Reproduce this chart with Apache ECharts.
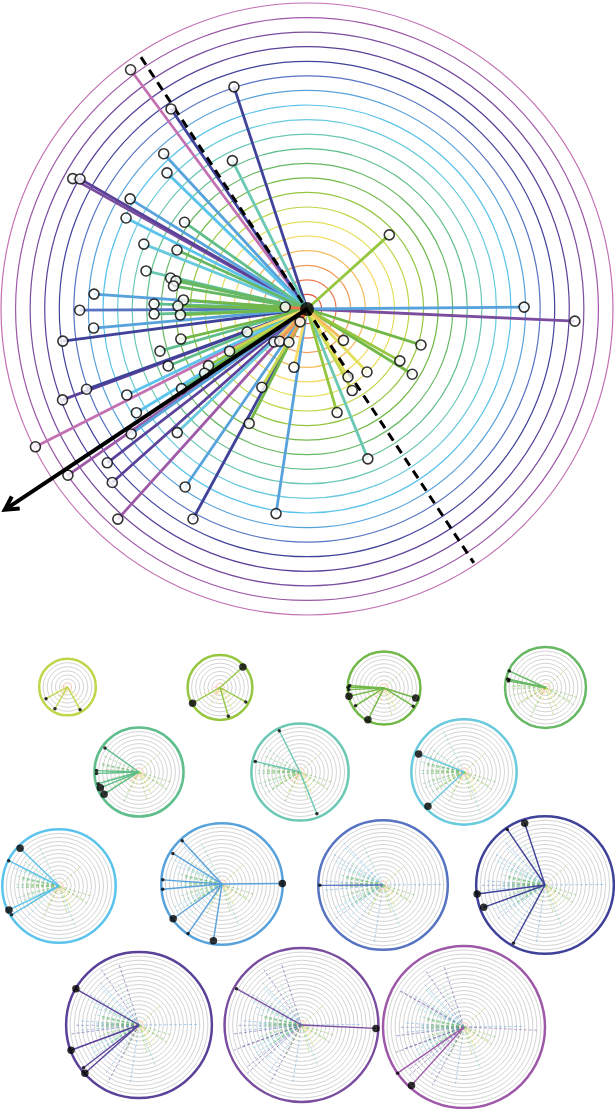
<!DOCTYPE html>
<html>
<head>
<meta charset="utf-8">
<script src="https://cdn.jsdelivr.net/npm/echarts@6/dist/echarts.min.js"></script>
<style>
  html, body { margin: 0; padding: 0; background: #fff; }
  #chart { width: 615px; height: 1109px; }
</style>
</head>
<body>
<div id="chart"></div>
<script>
// ring colours, ring 1 (centre) .. ring 21 (outside)
const ringColors = [
  '#e0533c', '#ea7a4e', '#f09a58', '#f5bd62', '#f5dc6a', '#e4e05a', '#bfd64a',
  '#95c640', '#72b848', '#67b864', '#5fbe8c', '#6ac8b4', '#68cadc', '#5bc3ec',
  '#58a2dc', '#5774c2', '#40429a', '#5a4199', '#7a4d9f', '#9e58a8', '#c270b2'
];
const ringCount = 21;

// points: distance in ring units, angle in degrees (counter-clockwise from east)
const radii = [
  20.4, 16.05, 16.6, 14.5, 11.4, 13.4, 18.4, 17.95, 14.3, 13.9,
  10.3, 12.05, 9.8, 11.35, 9.6, 9.2, 9.3, 14.65, 10.5, 8.5,
  8.86, 15.6, 1.5, 10.5, 8.7, 14.7, 16.9, 1.0, 4.4, 8.9,
  10.5, 6.05, 3.2, 2.9, 2.6, 10.3, 7.8, 8.3, 16.1, 17.9,
  10.2, 13.7, 4.1, 6.2, 13.7, 20.9, 14.8, 12.3, 8.8, 17.3,
  19.98, 17.9, 14.8, 19.4, 16.4, 14.2, 7.6, 14.9, 18.4, 3.3,
  8.2, 7.3, 5.97, 8.5, 5.45, 6.4, 7.4, 11.1
];
const angles = [
  126.4, 108.2, 124.2, 132.7, 116.7, 135.8, 150.9, 150.2, 148.1, 153.3,
  144.7, 158.3, 155.6, 166.7, 167.2, 167.9, 170.2, 176.0, 178.1, 175.8,
  178.7, 180.3, 174.8, 181.9, 182.7, 185.1, 187.5, 241.7, 201.0, 193.4,
  196.0, 208.6, 225.0, 229.8, 241.4, 202.3, 209.9, 212.1, 200.0, 200.4,
  212.4, 205.5, 257.4, 240.0, 211.3, 206.9, 215.4, 223.6, 243.2, 217.6,
  214.8, 221.7, 235.6, 228.0, 241.5, 261.4, 42.0, 0.5, 357.4, 319.3,
  342.5, 330.8, 313.6, 328.2, 301.1, 299.0, 286.2, 292.1
];
// 1 = large dot in the small panels
const bigDot = [
  0, 1, 0, 0, 0, 1, 0, 1, 0, 0,
  0, 1, 0, 0, 0, 0, 0, 0, 0, 0,
  0, 0, 0, 0, 0, 0, 1, 0, 0, 1,
  0, 0, 0, 0, 0, 1, 1, 0, 1, 1,
  1, 1, 0, 0, 0, 0, 1, 1, 1, 0,
  0, 1, 0, 1, 0, 1, 1, 1, 1, 0,
  1, 0, 0, 0, 0, 0, 0, 0
];

// dashed diameter and arrow
const dashR = [20.7, 20.85];
const dashAngle = [123.4, 303.3];
const arrowR = [24.9];
const arrowAngle = [213.6];

// small panels: outer ring shown in each
const panelRings = [7, 8, 9, 10, 11, 12, 13, 14, 15, 16, 17, 18, 19, 20];
const panelCenters = [
  [67.5, 687], [220, 687.5], [384, 688], [545.5, 687.5],
  [139, 772], [300, 772], [464, 772],
  [59, 886], [222, 884], [383, 885], [545, 885],
  [139, 1025], [301.5, 1025], [464, 1027]
];
const panelScale = 4.05;

const points = radii.map((r, i) => [r, angles[i], bigDot[i]]);
const colorOf = (r) => ringColors[Math.min(ringCount, Math.max(1, Math.ceil(r))) - 1];

function rayItem(width, dash) {
  return function (params, api) {
    const r = api.value(0);
    const a = api.value(1);
    const p0 = api.coord([0, a]);
    const p1 = api.coord([r, a]);
    return {
      type: 'line',
      shape: {x1: p0[0], y1: p0[1], x2: p1[0], y2: p1[1]},
      style: {stroke: colorOf(r), lineWidth: width, lineDash: dash || null, opacity: dash ? 0.7 : 1},
    };
  };
}

function arrowItem(params, api) {
  const p0 = api.coord([0, api.value(1)]);
  const p1 = api.coord([api.value(0), api.value(1)]);
  const dx = p1[0] - p0[0];
  const dy = p1[1] - p0[1];
  const len = Math.sqrt(dx * dx + dy * dy);
  const ux = dx / len;
  const uy = dy / len;
  const head = 15;
  const spread = 0.5;
  const wing = (s) => {
    const c = Math.cos(s), n = Math.sin(s);
    return [p1[0] - head * (ux * c - uy * n), p1[1] - head * (ux * n + uy * c)];
  };
  return {
    type: 'group',
    children: [
      {type: 'line', shape: {x1: p0[0], y1: p0[1], x2: p1[0] - ux * 2, y2: p1[1] - uy * 2}, style: {stroke: '#000', lineWidth: 4}},
      {type: 'polyline', shape: {points: [wing(spread), p1, wing(-spread)]}, style: {stroke: '#000', lineWidth: 4, fill: null, lineJoin: 'miter'}},
    ],
  };
}

const polar = [{center: [307, 309], radius: 306}];
const angleAxis = [];
const radiusAxis = [];
const series = [];

angleAxis.push({
  polarIndex: 0, type: 'value', min: 0, max: 360, startAngle: 0, clockwise: false,
  axisLine: {show: false}, axisTick: {show: false}, axisLabel: {show: false}, splitLine: {show: false},
});
radiusAxis.push({
  polarIndex: 0, type: 'value', min: 0, max: ringCount, interval: 1,
  axisLine: {show: false}, axisTick: {show: false}, axisLabel: {show: false},
  splitLine: {show: true, lineStyle: {color: ['transparent'].concat(ringColors), width: 1.2}},
});

const mainOrder = points.slice().sort((a, b) => b[0] - a[0]);
series.push({
  type: 'custom', coordinateSystem: 'polar', polarIndex: 0, z: 2,
  renderItem: rayItem(2.8), data: mainOrder, encode: {radius: 0, angle: 1},
});
series.push({
  type: 'line', coordinateSystem: 'polar', polarIndex: 0, z: 3, symbol: 'none',
  data: dashR.map((r, i) => [r, dashAngle[i]]),
  lineStyle: {color: '#000', width: 3, type: [9, 6]},
});
series.push({
  type: 'scatter', coordinateSystem: 'polar', polarIndex: 0, z: 5,
  data: points.map((p) => [p[0], p[1]]), symbol: 'circle', symbolSize: 10,
  itemStyle: {color: '#fff', borderColor: '#000', borderWidth: 1.6},
});
series.push({
  type: 'custom', coordinateSystem: 'polar', polarIndex: 0, z: 6,
  renderItem: arrowItem, data: arrowR.map((r, i) => [r, arrowAngle[i]]), encode: {radius: 0, angle: 1},
});
series.push({
  type: 'scatter', coordinateSystem: 'polar', polarIndex: 0, z: 7,
  data: [[0, 0]], symbolSize: 14, itemStyle: {color: '#000'},
});

panelRings.forEach((ring, k) => {
  const idx = k + 1;
  polar.push({center: panelCenters[k], radius: ring * panelScale});
  angleAxis.push({
    polarIndex: idx, type: 'value', min: 0, max: 360, startAngle: 0, clockwise: false,
    axisLine: {show: true, lineStyle: {color: ringColors[ring - 1], width: 2.5}},
    axisTick: {show: false}, axisLabel: {show: false}, splitLine: {show: false},
  });
  const grays = ['transparent'];
  for (let i = 1; i < ring; i++) grays.push(i === 1 ? '#f0b4aa' : '#c8c8c8');
  grays.push('transparent');
  radiusAxis.push({
    polarIndex: idx, type: 'value', min: 0, max: ring, interval: 1,
    axisLine: {show: false}, axisTick: {show: false}, axisLabel: {show: false},
    splitLine: {show: true, lineStyle: {color: grays, width: 0.8}},
  });
  const older = points.filter((p) => p[0] <= ring - 1);
  const current = points.filter((p) => p[0] > ring - 1 && p[0] <= ring);
  series.push({
    type: 'custom', coordinateSystem: 'polar', polarIndex: idx, z: 2,
    renderItem: rayItem(0.7, [3, 2]), data: older, encode: {radius: 0, angle: 1},
  });
  series.push({
    type: 'custom', coordinateSystem: 'polar', polarIndex: idx, z: 3,
    renderItem: rayItem(1.4), data: current, encode: {radius: 0, angle: 1},
  });
  series.push({
    type: 'scatter', coordinateSystem: 'polar', polarIndex: idx, z: 4,
    data: current, symbol: 'circle',
    symbolSize: (v) => (v[2] ? 7.5 : 3.5),
    itemStyle: {color: '#000'},
  });
});

const chart = echarts.init(document.getElementById('chart'), null, {renderer: 'canvas'});
chart.setOption({
  animation: false,
  backgroundColor: '#fff',
  polar: polar,
  angleAxis: angleAxis,
  radiusAxis: radiusAxis,
  series: series,
});
</script>
</body>
</html>
